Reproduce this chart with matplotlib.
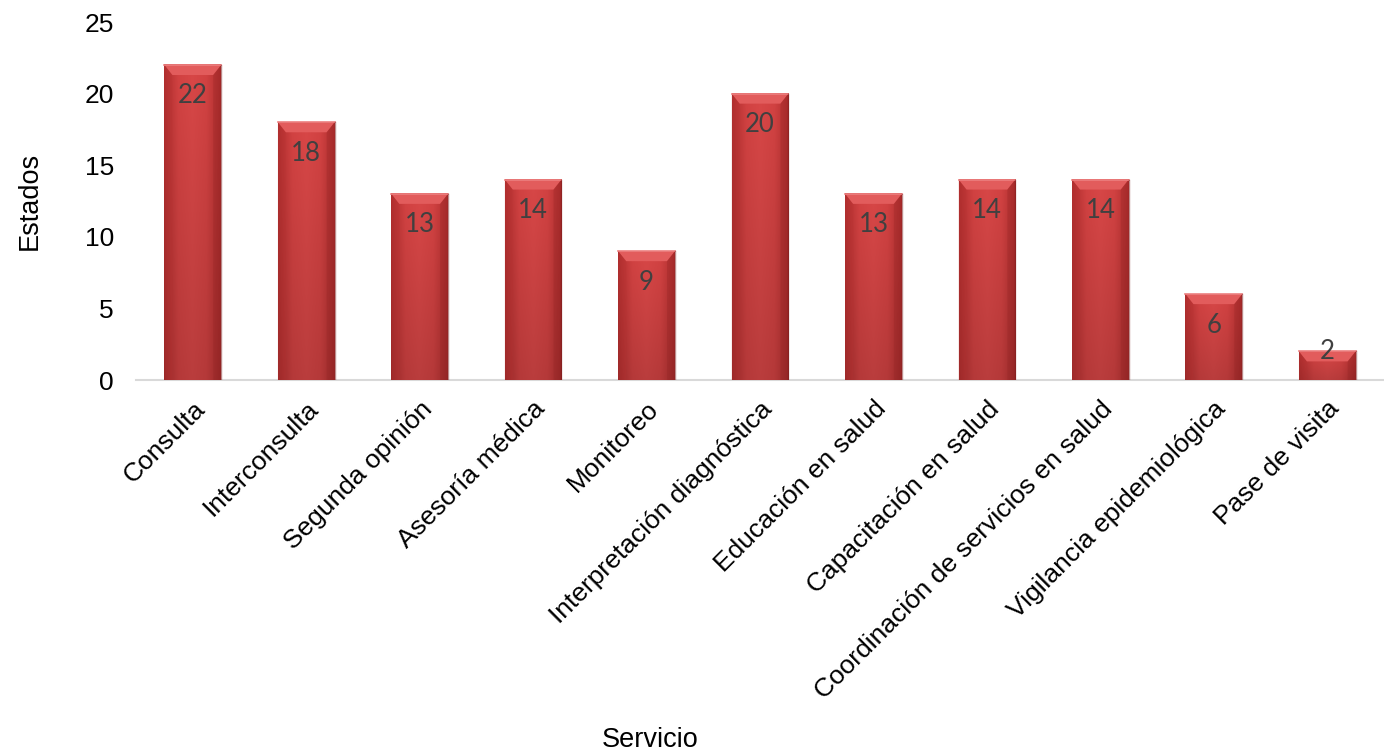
import numpy as np
import matplotlib.pyplot as plt
from matplotlib.patches import Polygon
from matplotlib.colors import LinearSegmentedColormap

servicios = ['Consulta', 'Interconsulta', 'Segunda opinión', 'Asesoría médica',
             'Monitoreo', 'Interpretación diagnóstica', 'Educación en salud',
             'Capacitación en salud', 'Coordinación de servicios en salud',
             'Vigilancia epidemiológica', 'Pase de visita']
estados = [22, 18, 13, 14, 9, 20, 13, 14, 14, 6, 2]

plt.rcParams['font.family'] = ['Liberation Sans', 'DejaVu Sans']

fig = plt.figure(figsize=(13.84, 7.54), dpi=100)
ax = fig.add_axes([0.0983, 0.496, 0.9017, 0.4748])

x = np.arange(len(servicios))
width = 0.5
bars = ax.bar(x, estados, width=width, color='#c83a3a', zorder=2)

# shaded fill for each bar: darker toward the sides and the base
cmap_h = LinearSegmentedColormap.from_list('h', ['#b02e2e', '#d24242', '#d84747', '#d24242', '#b02e2e'])
hh = np.linspace(0, 1, 60)
vv = np.linspace(0, 1, 100)[:, None]
shade = cmap_h(hh)[None, :, :3] * (0.86 + 0.14 * vv)[:, :, None]
shade = np.clip(shade, 0, 1)

bevel_y = 0.7
bevel_x = 0.07
for b, v in zip(bars, estados):
    x0 = b.get_x()
    x1 = x0 + b.get_width()
    ax.imshow(shade, extent=[x0, x1, 0, v], origin='lower', aspect='auto',
              interpolation='bilinear', zorder=3)
    by = min(bevel_y, v / 2)
    # top bevel
    ax.add_patch(Polygon([[x0, v], [x1, v], [x1 - bevel_x, v - by], [x0 + bevel_x, v - by]],
                         closed=True, facecolor='#e25c5c', edgecolor='none', zorder=4))
    # side bevels
    ax.add_patch(Polygon([[x0, v], [x0 + bevel_x, v - by], [x0 + bevel_x, 0], [x0, 0]],
                         closed=True, facecolor='#b83232', edgecolor='none', alpha=0.25, zorder=4))
    ax.add_patch(Polygon([[x1, v], [x1 - bevel_x, v - by], [x1 - bevel_x, 0], [x1, 0]],
                         closed=True, facecolor='#8e2222', edgecolor='none', alpha=0.25, zorder=4))
    ax.plot([x0, x1], [v, v], color='#ec8080', lw=1.2, zorder=5)
    ax.plot([x1, x1], [0, v], color='#7a1c1c', lw=1.0, alpha=0.5, zorder=5)
    # value label inside the top of the bar
    off = -31 if v > 3 else 0
    ax.annotate(str(v), (b.get_x() + b.get_width() / 2, v), xytext=(0, off),
                textcoords='offset pixels', ha='center', va='center',
                fontsize=18.5, color='#404040', family=['Lato', 'DejaVu Sans'], zorder=6)

ax.set_xlim(-0.5, len(servicios) - 0.5)
ax.set_ylim(0, 25)
ax.set_yticks(range(0, 26, 5))
ax.set_xticks(x)
ax.set_xticklabels(servicios, rotation=45, ha='right', rotation_mode='anchor')
ax.tick_params(axis='x', length=0, pad=12, labelsize=19, colors='#000000')
ax.tick_params(axis='y', length=0, pad=16, labelsize=19)

for s in ['top', 'right', 'left']:
    ax.spines[s].set_visible(False)
ax.spines['bottom'].set_color('#d9d9d9')
ax.spines['bottom'].set_linewidth(1.5)
ax.spines['bottom'].set_zorder(1)

ax.set_ylabel('Estados', fontsize=19.5, labelpad=30)
fig.text(650 / 1384, 1 - 740 / 754, 'Servicio', fontsize=19.5, ha='center', va='center')

fig.savefig('out.png', dpi=100)
